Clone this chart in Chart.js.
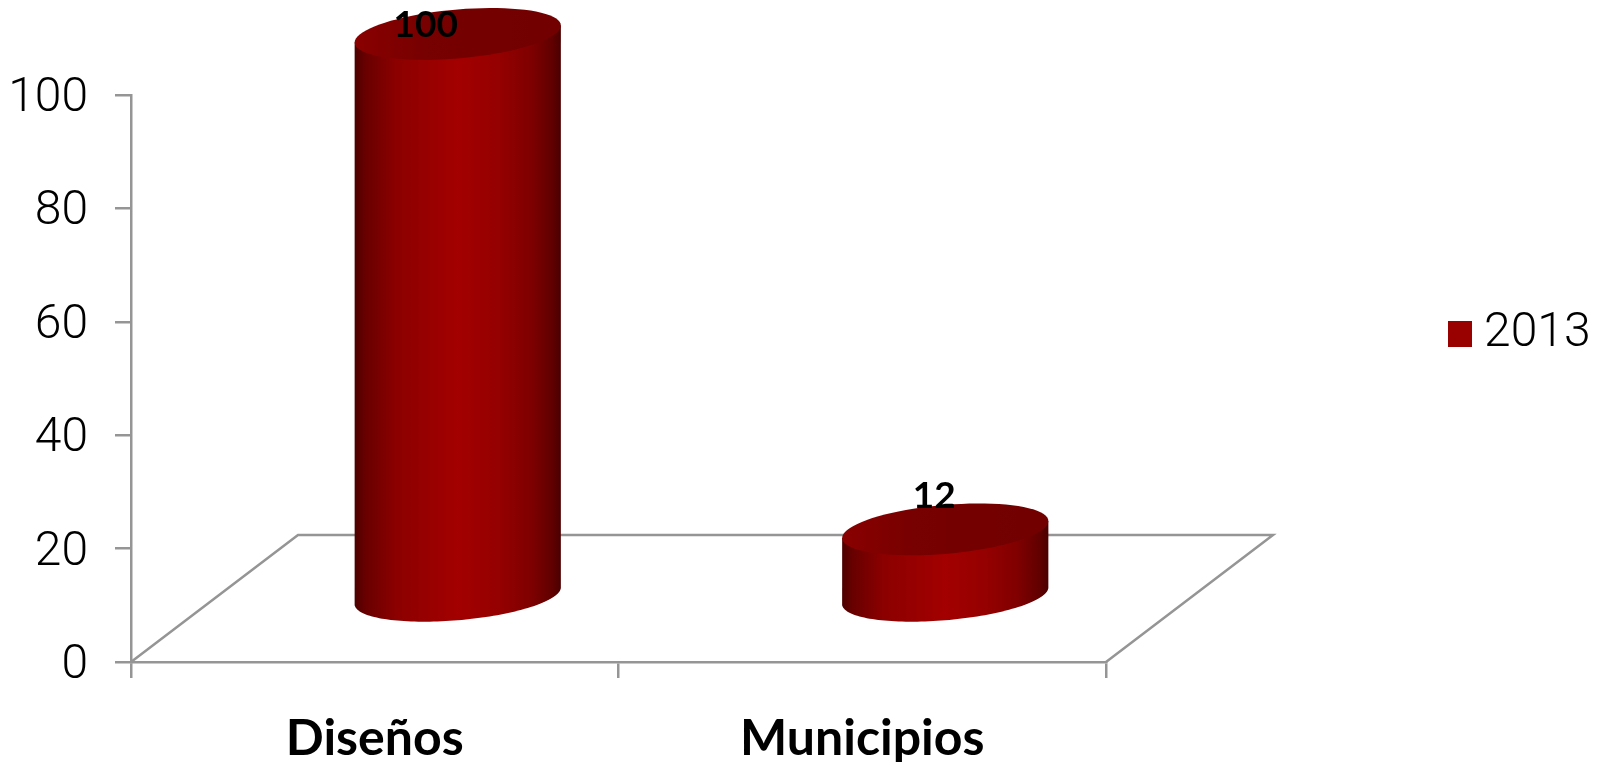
<!DOCTYPE html>
<html>
<head>
<meta charset="utf-8">
<style>html,body{margin:0;padding:0;background:#fff}canvas{display:block}</style>
<script src="https://cdn.jsdelivr.net/npm/chart.js@4"></script>
</head>
<body>
<div style="width:1604px;height:762px"><canvas id="c" width="1604" height="762"></canvas></div>
<script>
const categories = ['Diseños', 'Municipios'];
const seriesName = '2013';
const values = [100, 12];
const yTicks = [0, 20, 40, 60, 80, 100];

const FAMILY = 'Lato, "Open Sans", sans-serif';
const THIN = 'Roboto, Lato, sans-serif';
const AXIS = '#959595';
const legendFontSize = 48;
const legendPad = 10;

const mctx = document.createElement('canvas').getContext('2d');
mctx.font = `300 ${legendFontSize}px ${THIN}`;
const legendWidth = legendPad * 2 + 2 + legendFontSize / 2 + mctx.measureText(seriesName).width;

const depth = { dx: 167, dy: 127 };
const shift = { dx: 83, dy: -65 };
const labelShift = [{ dx: -32, dy: -9 }, { dx: -11, dy: -33 }];

function cylinder(ctx, cx, yTop, yBase, a) {
  const s = a * 0.0825, b = 24.5, N = 80;
  const pt = (t, cy) => [cx + a * Math.cos(t), cy + b * Math.sin(t) - s * Math.cos(t)];
  const g = ctx.createLinearGradient(cx - a, 0, cx + a, 0);
  [[0, '#4d0000'], [.05, '#680000'], [.2, '#8c0000'], [.5, '#a30000'], [.7, '#950000'], [.85, '#800000'], [.96, '#600000'], [1, '#4a0000']]
    .forEach(([o, c]) => g.addColorStop(o, c));
  ctx.beginPath();
  let p = pt(Math.PI, yTop); ctx.moveTo(p[0], p[1]);
  for (let i = 0; i <= N; i++) { p = pt(Math.PI * (1 - i / N), yBase); ctx.lineTo(p[0], p[1]); }
  p = pt(0, yTop); ctx.lineTo(p[0], p[1]);
  ctx.closePath();
  ctx.fillStyle = g; ctx.fill();
  const g2 = ctx.createLinearGradient(cx - a, 0, cx + a, 0);
  g2.addColorStop(0, '#8a0000'); g2.addColorStop(.35, '#770000'); g2.addColorStop(1, '#720000');
  ctx.beginPath();
  for (let i = 0; i <= N; i++) { p = pt(2 * Math.PI * i / N, yTop); i ? ctx.lineTo(p[0], p[1]) : ctx.moveTo(p[0], p[1]); }
  ctx.closePath();
  ctx.fillStyle = g2; ctx.fill();
}

const cyl3d = {
  id: 'cyl3d',
  afterLayout(chart) {
    const l = chart.legend;
    const w = l.right - l.left, h = l.bottom - l.top;
    l.left = 1448; l.right = l.left + w; l.top = 300; l.bottom = l.top + h;
  },
  beforeDatasetsDraw(chart) {
    const { ctx, chartArea: A } = chart;
    ctx.save();
    ctx.strokeStyle = AXIS; ctx.lineWidth = 2.5;
    ctx.beginPath();
    ctx.moveTo(A.left, A.bottom);
    ctx.lineTo(A.left + depth.dx, A.bottom - depth.dy);
    ctx.lineTo(A.right + depth.dx, A.bottom - depth.dy);
    ctx.lineTo(A.right, A.bottom);
    ctx.stroke();
    ctx.restore();
  },
  beforeDatasetDraw(chart, args) {
    const { ctx } = chart;
    ctx.save();
    args.meta.data.forEach(bar => {
      const yBase = bar.base + shift.dy;
      const yTop = yBase + (bar.y - bar.base) * 0.993;
      cylinder(ctx, bar.x + shift.dx, yTop, yBase, bar.width / 2);
    });
    ctx.restore();
    return false;
  },
  afterDraw(chart) {
    const { ctx } = chart;
    const meta = chart.getDatasetMeta(0);
    ctx.save();
    ctx.fillStyle = '#000';
    ctx.font = `bold 37px ${FAMILY}`;
    ctx.textAlign = 'center'; ctx.textBaseline = 'middle';
    meta.data.forEach((bar, i) => {
      const yBase = bar.base + shift.dy;
      const yTop = yBase + (bar.y - bar.base) * 0.993;
      ctx.fillText(String(values[i]), bar.x + shift.dx + labelShift[i].dx, yTop + labelShift[i].dy);
    });
    ctx.restore();
  }
};

new Chart(document.getElementById('c'), {
  type: 'bar',
  data: {
    labels: categories,
    datasets: [{ label: seriesName, data: values, backgroundColor: '#990000', barPercentage: 0.423, categoryPercentage: 1 }]
  },
  plugins: [cyl3d],
  options: {
    responsive: false,
    animation: false,
    layout: { padding: { top: 95, left: 0, bottom: 0, right: 1604 - 1106 - legendWidth } },
    plugins: {
      tooltip: { enabled: false },
      legend: {
        position: 'right',
        align: 'start',
        labels: {
          boxWidth: 2, boxHeight: 2, padding: legendPad, color: '#000',
          font: { family: THIN, size: legendFontSize, weight: 300 },
          generateLabels: () => [{ text: seriesName, fillStyle: '#990000', strokeStyle: '#990000', lineWidth: 24, lineJoin: 'miter', datasetIndex: 0 }]
        }
      }
    },
    scales: {
      x: {
        grid: { display: true, drawOnChartArea: false, drawTicks: true, tickLength: 16, color: AXIS, lineWidth: 2.5 },
        border: { color: AXIS, width: 2.5 },
        ticks: { color: '#000', padding: 31, maxRotation: 0, font: { family: FAMILY, size: 50, weight: 'bold' } },
        afterFit(s) { s.height = 100; }
      },
      y: {
        min: 0, max: 100,
        afterBuildTicks(s) { s.ticks = yTicks.map(v => ({ value: v })); },
        grid: { drawOnChartArea: false, drawTicks: true, tickLength: 16, color: AXIS, lineWidth: 2.5 },
        border: { color: AXIS, width: 2.5 },
        ticks: {
          color: '#000', padding: 27,
          font: { family: THIN, size: 48, weight: 300, lineHeight: '8px' },
          callback: v => ['', String(v)]
        },
        afterFit(s) { s.width = 131; }
      }
    }
  }
});
</script>
</body>
</html>
